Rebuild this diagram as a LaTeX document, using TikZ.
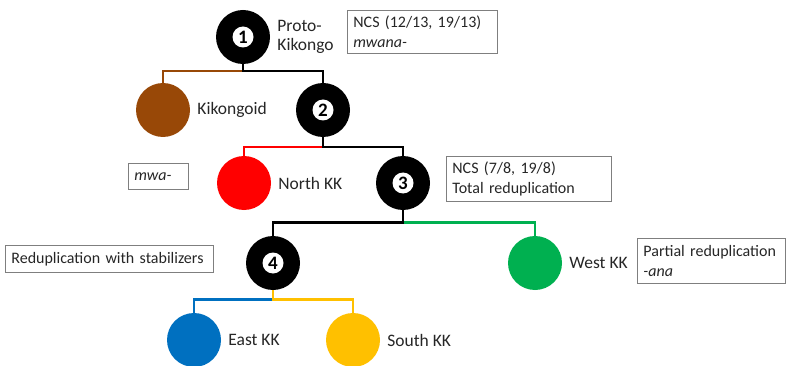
\documentclass[tikz,border=0pt]{standalone}
\usepackage{fontspec}
\setmainfont{Carlito}
\usepackage{xcolor}
\usetikzlibrary{positioning}

\definecolor{kkbrown}{HTML}{984807}
\definecolor{kkred}{HTML}{FF0000}
\definecolor{kkgreen}{HTML}{00B050}
\definecolor{kkblue}{HTML}{0070C0}
\definecolor{kkyellow}{HTML}{FFC000}
\definecolor{txtgray}{HTML}{262626}
\definecolor{boxgray}{HTML}{7F7F7F}

\begin{document}
\begin{tikzpicture}[
    x=1pt, y=-1pt,
    font=\fontsize{16}{19.5}\selectfont,
    lang/.style={circle, fill=#1, minimum size=54pt, inner sep=0pt},
    num/.style={circle, fill=black, minimum size=54pt, inner sep=0pt,
        path picture={\fill[white] (path picture bounding box.center) circle (10.5pt);
            \node[text=black, font=\fontsize{19}{19}\selectfont\bfseries] at (path picture bounding box.center) {#1};}},
    langlabel/.style={text=txtgray, inner sep=0pt, align=left, right=7pt of #1,
        font=\fontsize{17.5}{19.5}\selectfont},
    note/.style={draw=boxgray, line width=0.8pt, anchor=north west, align=left, text=txtgray,
        inner xsep=6pt, inner ysep=4pt},
    branch/.style={line width=2.6pt, draw=#1}
]
\useasboundingbox (0,0) rectangle (786,366);

% tree nodes
\node[num=1] (n1) at (243,37) {};
\node[lang=kkbrown] (kik) at (163,110) {};
\node[num=2] (n2) at (323,110) {};
\node[lang=kkred] (north) at (244,183) {};
\node[num=3] (n3) at (403,183) {};
\node[num=4] (n4) at (273,263) {};
\node[lang=kkgreen] (west) at (535,263) {};
\node[lang=kkblue] (east) at (194,340) {};
\node[lang=kkyellow] (south) at (353,340) {};

% names
\node[langlabel=n1] (n1lab) {Proto-\\Kikongo};
\node[langlabel=kik] (kiklab) {Kikongoid};
\node[langlabel=north] (northlab) {North KK};
\node[langlabel=west] (westlab) {West KK};
\node[langlabel=east] (eastlab) {East KK};
\node[langlabel=south] (southlab) {South KK};

% branches
\draw[branch=kkbrown] (n1.south) -- ++(0,7) -| (kik.north);
\draw[branch=black] (n1.south) -- ++(0,7) -| (n2.north);
\draw[branch=kkred] (n2.south) -- ++(0,10) -| (north.north);
\draw[branch=black] (n2.south) -- ++(0,10) -| (n3.north);
\draw[branch=kkgreen] (n3.south) -- ++(0,12) -| (west.north);
\draw[branch=black] (n3.south) -- ++(0,12) -| (n4.north);
\draw[branch=kkblue] (n4.south) -- ++(0,9) -| (east.north);
\draw[branch=kkyellow] (n4.south) -- ++(0,9) -| (south.north);

% notes
\node[note, text width=138pt, minimum height=43pt] (ncs1) at (347,10) {NCS (12/13, 19/13)\\\textit{mwana-}};
\node[note, text width=48pt, minimum height=26pt] (mwa) at (128,163) {\textit{mwa-}};
\node[note, text width=153pt, minimum height=45pt] (ncs3) at (446,156) {NCS (7/8, 19/8)\\Total reduplication};
\node[note, text width=196pt, minimum height=27pt] (stab) at (5,245) {Reduplication with stabilizers};
\node[note, text width=136pt, minimum height=45pt] (part) at (637,238) {Partial reduplication\\\textit{-ana}};
\end{tikzpicture}
\end{document}
